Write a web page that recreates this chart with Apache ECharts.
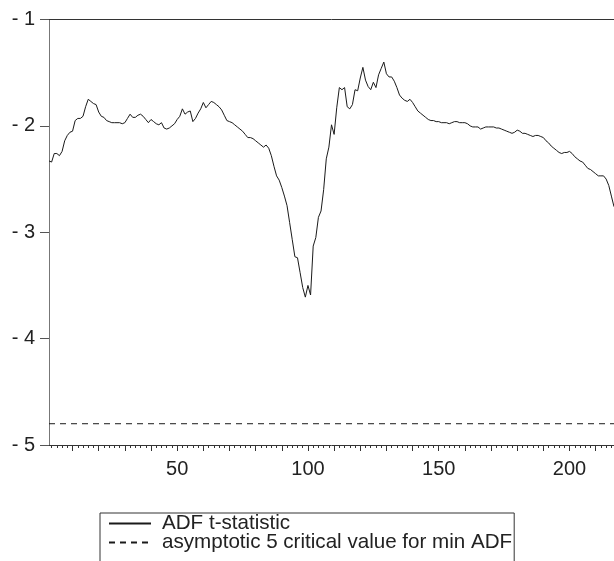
<!DOCTYPE html>
<html>
<head>
<meta charset="utf-8">
<script src="https://cdn.jsdelivr.net/npm/echarts@6/dist/echarts.min.js"></script>
<style>
html,body{margin:0;padding:0;background:#fff;}
#chart{width:614px;height:561px;}
</style>
</head>
<body>
<div id="chart"></div>
<script>
// Observation index starts at 1
const adfValues = [
-2.33,-2.34,-2.26,-2.26,-2.28,-2.24,-2.14,-2.09,-2.06,-2.05,
-1.95,-1.93,-1.93,-1.91,-1.82,-1.75,-1.77,-1.79,-1.80,-1.87,
-1.91,-1.92,-1.95,-1.96,-1.97,-1.97,-1.97,-1.97,-1.98,-1.97,
-1.93,-1.89,-1.92,-1.92,-1.90,-1.89,-1.91,-1.94,-1.97,-1.94,
-1.96,-1.98,-1.99,-1.97,-2.02,-2.03,-2.02,-2.00,-1.98,-1.94,
-1.91,-1.84,-1.89,-1.87,-1.86,-1.96,-1.93,-1.88,-1.84,-1.78,
-1.83,-1.80,-1.77,-1.78,-1.80,-1.82,-1.85,-1.90,-1.95,-1.96,
-1.97,-1.99,-2.01,-2.03,-2.05,-2.08,-2.11,-2.11,-2.12,-2.14,
-2.16,-2.18,-2.20,-2.18,-2.21,-2.28,-2.38,-2.47,-2.51,-2.58,
-2.66,-2.75,-2.91,-3.07,-3.23,-3.24,-3.38,-3.52,-3.61,-3.50,
-3.59,-3.13,-3.05,-2.86,-2.80,-2.60,-2.31,-2.20,-1.99,-2.08,
-1.83,-1.64,-1.66,-1.64,-1.82,-1.84,-1.80,-1.66,-1.67,-1.55,
-1.45,-1.57,-1.63,-1.66,-1.59,-1.64,-1.52,-1.46,-1.40,-1.51,
-1.54,-1.54,-1.58,-1.64,-1.71,-1.74,-1.76,-1.77,-1.75,-1.78,
-1.82,-1.86,-1.88,-1.90,-1.92,-1.94,-1.95,-1.95,-1.96,-1.96,
-1.97,-1.97,-1.97,-1.98,-1.97,-1.96,-1.96,-1.97,-1.97,-1.97,
-1.98,-2.00,-2.01,-2.01,-2.01,-2.03,-2.02,-2.01,-2.01,-2.01,
-2.01,-2.02,-2.02,-2.03,-2.04,-2.05,-2.06,-2.07,-2.06,-2.04,
-2.05,-2.07,-2.07,-2.08,-2.09,-2.10,-2.09,-2.09,-2.10,-2.11,
-2.14,-2.16,-2.19,-2.21,-2.23,-2.25,-2.26,-2.25,-2.25,-2.24,
-2.26,-2.29,-2.31,-2.33,-2.34,-2.37,-2.40,-2.41,-2.43,-2.45,
-2.47,-2.47,-2.47,-2.50,-2.56,-2.66,-2.76
];
const criticalValue = -4.80;
const xTickLabels = [50, 100, 150, 200];
const seriesNames = ['ADF t-statistic', 'asymptotic 5 critical value for min ADF'];

const xMin = 1, xMax = adfValues.length;
const adfData = adfValues.map((v, i) => [i + 1, v]);
const critData = [[xMin, criticalValue], [xMax, criticalValue]];

const midTicks = [];
for (let t = 10; t <= xMax; t += 10) midTicks.push(t);
const minorTicks = [];
for (let t = 2; t <= xMax; t += 2) if (t % 10 !== 0) minorTicks.push(t);

const FONT = 'Liberation Sans, Arial, sans-serif';
const chart = echarts.init(document.getElementById('chart'), null, {renderer: 'canvas'});
chart.setOption({
  animation: false,
  backgroundColor: '#fff',
  grid: {left: 49, top: 19.5, right: -1, bottom: 116, containLabel: false},
  xAxis: [
    {
      type: 'value', position: 'bottom', min: xMin, max: xMax,
      axisLine: {show: true, lineStyle: {color: '#333', width: 1}},
      axisTick: {show: true, customValues: midTicks, length: 6, inside: false, lineStyle: {color: '#333'}},
      axisLabel: {show: true, customValues: xTickLabels, fontSize: 20, color: '#222', fontFamily: FONT, margin: 14},
      splitLine: {show: false}
    },
    {
      type: 'value', position: 'bottom', min: xMin, max: xMax,
      axisLine: {show: false},
      axisTick: {show: true, customValues: minorTicks, length: 3, lineStyle: {color: '#333'}},
      axisLabel: {show: false},
      splitLine: {show: false}
    },
    {
      type: 'value', position: 'top', min: xMin, max: xMax,
      axisLine: {show: true, lineStyle: {color: '#333', width: 1}},
      axisTick: {show: false}, axisLabel: {show: false}, splitLine: {show: false}
    }
  ],
  yAxis: {
    type: 'value', min: -5, max: -1, interval: 1,
    axisLine: {show: true, lineStyle: {color: '#777', width: 1}},
    axisTick: {show: true, length: 9, lineStyle: {color: '#555'}},
    axisLabel: {fontSize: 20, color: '#222', fontFamily: FONT, margin: 14,
      formatter: v => '- ' + Math.abs(v)},
    splitLine: {show: false}
  },
  legend: {
    orient: 'vertical', left: 100, top: 513, height: 120,
    data: seriesNames,
    itemWidth: 42, itemHeight: 14, itemGap: -2,
    padding: [0, 2, 12, 8],
    borderColor: '#333', borderWidth: 1,
    itemStyle: {color: 'rgba(0,0,0,0)', borderWidth: 0, opacity: 0},
    textStyle: {fontSize: 20.6, color: '#222', fontFamily: FONT, lineHeight: 18, padding: [0, 0, 0, 6]}
  },
  series: [
    {
      name: seriesNames[0], type: 'line', data: adfData, xAxisIndex: 0,
      symbol: 'none', showSymbol: false,
      lineStyle: {color: '#1a1a1a', width: 1}, itemStyle: {color: '#1a1a1a'}
    },
    {
      name: seriesNames[1], type: 'line', data: critData, xAxisIndex: 0,
      symbol: 'none', showSymbol: false,
      lineStyle: {color: '#1a1a1a', width: 1, type: [6, 5]}, itemStyle: {color: '#1a1a1a'}
    }
  ]
});
</script>
</body>
</html>
